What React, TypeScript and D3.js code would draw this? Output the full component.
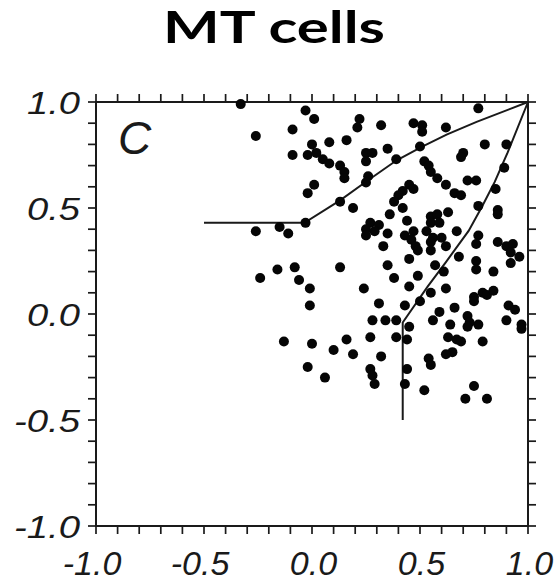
import React from "react";
import * as d3 from "d3";

// Partial correlation values (x: component, y: pattern)
const cellX: number[] = [
  -0.33, -0.03, 0.01, -0.09, -0.26, 0.08, 0.16, 0.0, -0.02, 0.02,
  0.05, 0.08, -0.09, 0.13, 0.15, 0.15, 0.01, -0.02, 0.13, 0.19,
  -0.03, -0.15, -0.11, -0.26, -0.24, -0.16, -0.08, -0.06, 0.13, -0.01,
  -0.01, -0.13, 0.0, 0.1, 0.16, 0.19, -0.02, 0.06, 0.22, 0.21,
  0.32, 0.25, 0.28, 0.25, 0.35, 0.39, 0.26, 0.25, 0.47, 0.51,
  0.51, 0.62, 0.77, 0.5, 0.8, 0.9, 0.7, 0.69, 0.52, 0.54,
  0.55, 0.58, 0.62, 0.66, 0.69, 0.72, 0.76, 0.89, 0.85, 0.77,
  0.86, 0.86, 0.45, 0.47, 0.42, 0.4, 0.38, 0.42, 0.36, 0.44,
  0.55, 0.58, 0.63, 0.55, 0.59, 0.53, 0.56, 0.55, 0.27, 0.31,
  0.25, 0.25, 0.29, 0.35, 0.43, 0.47, 0.46, 0.6, 0.67, 0.77,
  0.76, 0.33, 0.48, 0.49, 0.55, 0.62, 0.68, 0.45, 0.86, 0.9,
  0.93, 0.92, 0.96, 0.92, 0.76, 0.76, 0.84, 0.35, 0.38, 0.49,
  0.57, 0.61, 0.62, 0.24, 0.45, 0.55, 0.5, 0.31, 0.43, 0.75,
  0.75, 0.79, 0.81, 0.84, 0.91, 0.94, 0.59, 0.66, 0.72, 0.73,
  0.72, 0.28, 0.34, 0.39, 0.45, 0.56, 0.64, 0.77, 0.9, 0.97,
  0.97, 0.27, 0.39, 0.44, 0.63, 0.67, 0.69, 0.79, 0.65, 0.62,
  0.32, 0.54, 0.55, 0.44, 0.27, 0.28, 0.29, 0.43, 0.52, 0.75,
  0.71, 0.81,
];
const cellY: number[] = [
  0.99, 0.96, 0.92, 0.87, 0.84, 0.81, 0.82, 0.8, 0.75, 0.76,
  0.73, 0.71, 0.75, 0.7, 0.67, 0.64, 0.61, 0.57, 0.53, 0.5,
  0.43, 0.41, 0.38, 0.39, 0.17, 0.21, 0.22, 0.16, 0.22, 0.12,
  0.04, -0.13, -0.14, -0.17, -0.12, -0.19, -0.25, -0.3, 0.92, 0.88,
  0.89, 0.76, 0.76, 0.72, 0.78, 0.73, 0.65, 0.62, 0.9, 0.89,
  0.86, 0.88, 0.97, 0.79, 0.8, 0.8, 0.76, 0.74, 0.72, 0.7,
  0.67, 0.64, 0.61, 0.57, 0.56, 0.63, 0.63, 0.69, 0.59, 0.51,
  0.49, 0.47, 0.61, 0.59, 0.58, 0.56, 0.53, 0.5, 0.47, 0.44,
  0.46, 0.47, 0.48, 0.43, 0.43, 0.39, 0.36, 0.34, 0.43, 0.42,
  0.4, 0.37, 0.39, 0.38, 0.37, 0.39, 0.35, 0.36, 0.39, 0.37,
  0.33, 0.32, 0.32, 0.3, 0.3, 0.32, 0.27, 0.26, 0.34, 0.32,
  0.33, 0.29, 0.27, 0.24, 0.25, 0.21, 0.2, 0.23, 0.17, 0.18,
  0.23, 0.2, 0.12, 0.12, 0.13, 0.1, 0.06, 0.05, 0.04, 0.08,
  0.06, 0.1, 0.09, 0.11, 0.04, 0.02, 0.01, 0.03, -0.01, -0.04,
  -0.06, -0.03, -0.03, -0.03, -0.06, -0.03, -0.05, -0.05, -0.03, -0.05,
  -0.07, -0.11, -0.11, -0.12, -0.11, -0.12, -0.13, -0.13, -0.18, -0.19,
  -0.2, -0.21, -0.24, -0.26, -0.26, -0.29, -0.33, -0.33, -0.36, -0.34,
  -0.4, -0.4,
];

// Classification boundaries
const patternBoundX: number[] = [-0.5, -0.035, 0.13, 0.245, 0.392, 0.508, 0.623, 0.762, 1.0];
const patternBoundY: number[] = [0.43, 0.43, 0.536, 0.62, 0.725, 0.788, 0.846, 0.906, 1.0];
const componentBoundX: number[] = [0.42, 0.42, 0.536, 0.62, 0.725, 0.788, 0.846, 0.906, 1.0];
const componentBoundY: number[] = [-0.5, -0.04, 0.13, 0.245, 0.392, 0.508, 0.623, 0.762, 1.0];

const tickValues: number[] = d3.range(-10, 11).map((i) => i / 10);
const labelValues: number[] = [-1.0, -0.5, 0.0, 0.5, 1.0];
const labelText: string[] = ["-1.0", "-0.5", "0.0", "0.5", "1.0"];

const title = "MT cells";
const panelLabel = "C";

export default function App() {
  const W = 557;
  const H = 583;
  const x = d3.scaleLinear().domain([-1, 1]).range([96, 528]);
  const y = d3.scaleLinear().domain([-1, 1]).range([526, 102]);
  const ink = "#1a1a1a";
  const tk = 8;

  const line = d3
    .line<[number, number]>()
    .x((d) => x(d[0]))
    .y((d) => y(d[1]));

  const pBound = patternBoundX.map((v, i) => [v, patternBoundY[i]] as [number, number]);
  const cBound = componentBoundX.map((v, i) => [v, componentBoundY[i]] as [number, number]);

  const labelFont = "'Liberation Sans', Arial, sans-serif";

  return (
    <svg
      width={W}
      height={H}
      style={{ position: "absolute", left: 0, top: 0, background: "#fff" }}
    >
      <rect x={0} y={0} width={W} height={H} fill="#fff" />
      <text
        x={274}
        y={43}
        textAnchor="middle"
        fontFamily="Lato, 'Open Sans', sans-serif"
        fontWeight={700}
        fontSize={44}
        textLength={222}
        lengthAdjust="spacingAndGlyphs"
        fill="#000"
      >
        {title}
      </text>

      {/* ticks */}
      <g stroke={ink} strokeWidth={1.7}>
        {tickValues.map((t, i) => (
          <g key={i}>
            <line x1={x(t)} x2={x(t)} y1={y(-1)} y2={y(-1) + tk} />
            <line x1={x(t)} x2={x(t)} y1={y(1)} y2={y(1) - tk} />
            <line x1={x(-1)} x2={x(-1) - tk} y1={y(t)} y2={y(t)} />
            <line x1={x(1)} x2={x(1) + tk} y1={y(t)} y2={y(t)} />
          </g>
        ))}
      </g>
      {/* frame */}
      <rect
        x={x(-1)}
        y={y(1)}
        width={x(1) - x(-1)}
        height={y(-1) - y(1)}
        fill="none"
        stroke={ink}
        strokeWidth={2}
      />

      {/* boundaries */}
      <path d={line(pBound) || ""} fill="none" stroke={ink} strokeWidth={2} />
      <path d={line(cBound) || ""} fill="none" stroke={ink} strokeWidth={2} />

      {/* cells */}
      <g fill="#050505">
        {cellX.map((v, i) => (
          <circle key={i} cx={x(v)} cy={y(cellY[i])} r={5} />
        ))}
      </g>

      {/* panel label */}
      <text
        x={118}
        y={154}
        fontFamily={labelFont}
        fontStyle="italic"
        fontSize={46}
        fill={ink}
      >
        {panelLabel}
      </text>

      {/* y labels */}
      {labelValues.map((v, i) => (
        <text
          key={"y" + i}
          x={80}
          y={y(v) + 11.5}
          textAnchor="end"
          fontFamily={labelFont}
          fontStyle="italic"
          fontSize={32}
          textLength={labelText[i].length === 3 ? 53 : 66}
          lengthAdjust="spacingAndGlyphs"
          fill={ink}
        >
          {labelText[i]}
        </text>
      ))}
      {/* x labels */}
      {labelValues.map((v, i) => (
        <text
          key={"x" + i}
          x={x(v) + (v < 0 ? -4 : 1.5)}
          y={575}
          textAnchor="middle"
          fontFamily={labelFont}
          fontStyle="italic"
          fontSize={34}
          fill={ink}
        >
          {labelText[i]}
        </text>
      ))}
    </svg>
  );
}
